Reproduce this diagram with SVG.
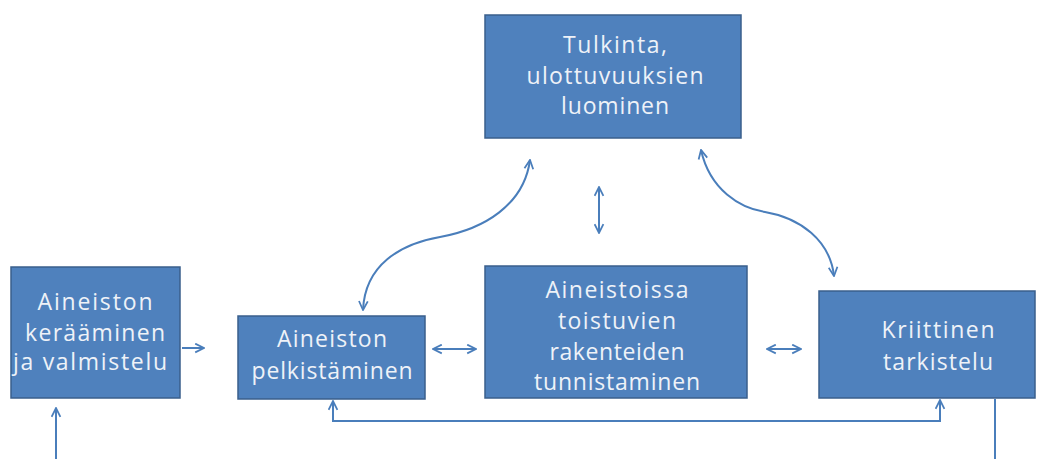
<svg xmlns="http://www.w3.org/2000/svg" width="1045" height="459" viewBox="0 0 1045 459">
<defs>
<style>
.box{fill:#4F81BD;stroke:#3A5F8C;stroke-width:1.5}
.t{font-family:"Open Sans","Liberation Sans",sans-serif;font-size:23px;fill:#EEF2F8;text-anchor:middle}
.c{fill:none;stroke:#4A7EBB;stroke-width:2}
</style>
<marker id="ah" viewBox="0 0 10 10" refX="9" refY="5" markerWidth="11" markerHeight="11" markerUnits="userSpaceOnUse" orient="auto-start-reverse">
<path d="M1,1 L9,5 L1,9" fill="none" stroke="#4A7EBB" stroke-width="1.6"/>
</marker>
</defs>
<rect width="1045" height="459" fill="#FFFFFF"/>
<g id="connectors">
<line class="c" x1="182" y1="348" x2="204" y2="348" marker-end="url(#ah)"/>
<line class="c" x1="433" y1="349" x2="476" y2="349" marker-start="url(#ah)" marker-end="url(#ah)"/>
<line class="c" x1="767" y1="349" x2="801" y2="349" marker-start="url(#ah)" marker-end="url(#ah)"/>
<line class="c" x1="599" y1="187" x2="599" y2="233" marker-start="url(#ah)" marker-end="url(#ah)"/>
<path class="c" d="M530,160 C524,205 484,229 440,237 C400,244 365,265 363,310" marker-start="url(#ah)" marker-end="url(#ah)"/>
<path class="c" d="M701,150 C710,190 740,208 765,212 C800,218 830,240 834,276" marker-start="url(#ah)" marker-end="url(#ah)"/>
<path class="c" d="M333,401 L333,421 L940,421 L940,400" marker-start="url(#ah)" marker-end="url(#ah)"/>
<line class="c" x1="995" y1="399" x2="995" y2="459"/>
<line class="c" x1="56" y1="459" x2="56" y2="408" marker-end="url(#ah)"/>
</g>
<g id="tulkinta">
<rect class="box" x="485" y="15" width="256" height="123"/>
<text class="t" x="615" y="53" textLength="104">Tulkinta,</text>
<text class="t" x="615" y="84" textLength="177">ulottuvuuksien</text>
<text class="t" x="615" y="114" textLength="108">luominen</text>
</g>
<g id="keraaminen">
<rect class="box" x="11" y="267" width="169" height="131"/>
<text class="t" x="95" y="310" textLength="115">Aineiston</text>
<text class="t" x="95" y="341" textLength="140">kerääminen</text>
<text class="t" x="90" y="370" textLength="154">ja valmistelu</text>
</g>
<g id="pelkistaminen">
<rect class="box" x="238" y="316" width="187" height="83"/>
<text class="t" x="332" y="347" textLength="110">Aineiston</text>
<text class="t" x="332" y="379" textLength="161">pelkistäminen</text>
</g>
<g id="toistuvien">
<rect class="box" x="485" y="266" width="262" height="132"/>
<text class="t" x="617" y="298" textLength="143">Aineistoissa</text>
<text class="t" x="617" y="329" textLength="118">toistuvien</text>
<text class="t" x="617" y="360" textLength="135">rakenteiden</text>
<text class="t" x="617" y="390" textLength="166">tunnistaminen</text>
</g>
<g id="kriittinen">
<rect class="box" x="819" y="291" width="216" height="107"/>
<text class="t" x="938" y="338" textLength="113">Kriittinen</text>
<text class="t" x="938" y="370" textLength="110">tarkistelu</text>
</g>
</svg>
